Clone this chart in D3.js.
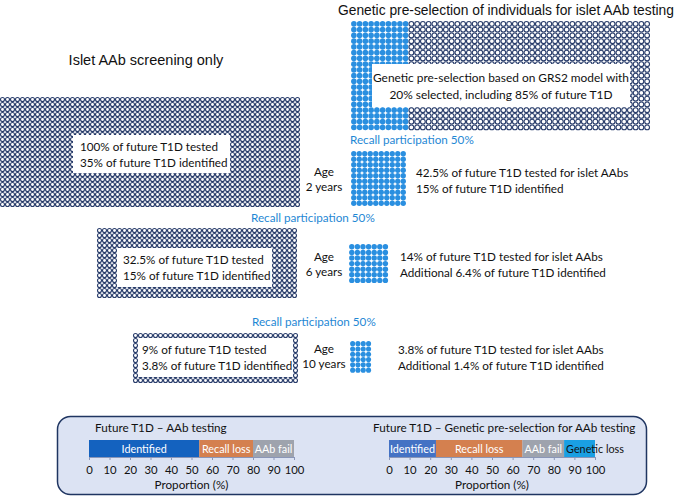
<!DOCTYPE html>
<html><head><meta charset="utf-8">
<script src="https://cdn.jsdelivr.net/npm/d3@7"></script>
<style>body{margin:0;background:#fff}svg{display:block}</style>
</head><body>
<svg id="c" width="681" height="497"></svg>
<script>
// ---------------- data ----------------
const stageAges = ["2 years", "6 years", "10 years"];
const screeningTested = ["100% of future T1D tested", "32.5% of future T1D tested", "9% of future T1D tested"];
const screeningIdentified = ["35% of future T1D identified", "15% of future T1D identified", "3.8% of future T1D identified"];
const geneticTested = ["42.5% of future T1D tested for islet AAbs", "14% of future T1D tested for islet AAbs", "3.8% of future T1D tested for islet AAbs"];
const geneticIdentified = ["15% of future T1D identified", "Additional 6.4% of future T1D identified", "Additional 1.4% of future T1D identified"];
const recallLabel = "Recall participation 50%";
const geneticSelectedShare = 0.20;
const preselectionText = ["Genetic pre-selection based on GRS2 model with", "20% selected, including 85% of future T1D"];
const screeningGridCols = [60, 40, 33];
const screeningGridRows = [22, 14, 10];
const geneticGridCols = [10, 7, 4];
const geneticGridRows = [10, 7, 6];
const barCategoriesA = ["Identified", "Recall loss", "AAb fail"];
const barValuesA = [53.8, 26.2, 20];
const barCategoriesB = ["Identified", "Recall loss", "AAb fail", "Genetic loss"];
const barValuesB = [22.8, 42, 20.2, 15];
const axisTicks = [0, 10, 20, 30, 40, 50, 60, 70, 80, 90, 100];

// ---------------- styling ----------------
const svg = d3.select("#c");
const NAVY = "#293d6b", BLUE = "#2a8fe0", RECALL = "#1f88d4";
const bodyFont = "Lato, 'Open Sans', sans-serif";
const titleFont = "'Liberation Sans', Arial, sans-serif";
const FS = 11.7;
const segColor = {"Identified": "#1462bf", "Recall loss": "#d4804f", "AAb fail": "#9ea3ad", "Genetic loss": "#1a9fe3"};
const segColorB = Object.assign({}, segColor, {"Identified": "#4472c4"});

function grid(g, x0, y0, cols, rows, pitch, colorFn) {
  const cells = d3.range(cols * rows).map(i => ({c: i % cols, r: Math.floor(i / cols)}));
  const xs = d3.scaleLinear().domain([0, cols]).range([x0, x0 + cols * pitch]);
  const ys = d3.scaleLinear().domain([0, rows]).range([y0, y0 + rows * pitch]);
  g.selectAll(null).data(cells).join("circle")
    .attr("cx", d => xs(d.c + 0.5)).attr("cy", d => ys(d.r + 0.5))
    .attr("r", d => colorFn(d) === "navy" ? pitch / 2 - 0.5 : pitch / 2 - 0.1)
    .attr("fill", d => colorFn(d) === "navy" ? "#fff" : BLUE)
    .attr("stroke", d => colorFn(d) === "navy" ? NAVY : "none")
    .attr("stroke-width", 1.1);
}
function textLines(g, x, y, lines, anchor, size, color, dy) {
  lines.forEach((t, i) => g.append("text").attr("x", x).attr("y", y + i * dy)
    .attr("text-anchor", anchor).attr("font-family", bodyFont).attr("font-size", size)
    .attr("fill", color || "#111").text(t));
}

// titles
svg.append("text").attr("x", 338).attr("y", 15).attr("text-anchor", "start")
  .attr("font-family", titleFont).attr("font-size", 13.8).attr("fill", "#111")
  .text("Genetic pre-selection of individuals for islet AAb testing");
svg.append("text").attr("x", 146).attr("y", 65).attr("text-anchor", "middle")
  .attr("font-family", titleFont).attr("font-size", 14.5).attr("fill", "#111")
  .text("Islet AAb screening only");

// top-right genetic pre-selection grid
const gTop = svg.append("g");
const topCols = 52, topRows = 19;
grid(gTop, 351, 21, topCols, topRows, 5.75, d => d.c < Math.round(topCols * geneticSelectedShare) ? "blue" : "navy");
gTop.append("rect").attr("x", 372).attr("y", 64).attr("width", 258).attr("height", 43).attr("fill", "#fff");
textLines(gTop, 501, 82, preselectionText, "middle", FS + 0.2, "#111", 17);

// screening grids (left)
const leftBoxes = [
  {x0: 0, y0: 97, pitch: 5, box: [73, 135, 157, 38], tx: 80},
  {x0: 97, y0: 228, pitch: 5, box: [117, 248, 155, 39], tx: 123},
  {x0: 133, y0: 333, pitch: 5, box: [138, 338, 155, 39], tx: 142}
];
const rightBlocks = [
  {x0: 351, y0: 151, pitch: 5.5, ty: 177, ageY: 176, tx: 416},
  {x0: 349, y0: 244, pitch: 5.6, ty: 261, ageY: 261, tx: 400},
  {x0: 350, y0: 341, pitch: 5.3, ty: 354, ageY: 353, tx: 398}
];
const recallPos = [{x: 350, y: 144}, {x: 251, y: 222}, {x: 252, y: 326}];

stageAges.forEach((age, i) => {
  const L = leftBoxes[i];
  const g = svg.append("g");
  grid(g, L.x0, L.y0, screeningGridCols[i], screeningGridRows[i], L.pitch, () => "navy");
  g.append("rect").attr("x", L.box[0]).attr("y", L.box[1]).attr("width", L.box[2]).attr("height", L.box[3]).attr("fill", "#fff");
  textLines(g, L.tx, L.box[1] + 16, [screeningTested[i], screeningIdentified[i]], "start", FS, "#111", 15.5);

  const R = rightBlocks[i];
  grid(g, R.x0, R.y0, geneticGridCols[i], geneticGridRows[i], R.pitch, () => "blue");
  textLines(g, 324, R.ageY, ["Age", age], "middle", FS, "#111", 15);
  textLines(g, R.tx, R.ty, [geneticTested[i], geneticIdentified[i]], "start", FS, "#111", 16);

  svg.append("text").attr("x", recallPos[i].x).attr("y", recallPos[i].y)
    .attr("font-family", bodyFont).attr("font-size", FS).attr("fill", RECALL).text(recallLabel);
});

// bottom panel
svg.append("rect").attr("x", 57.5).attr("y", 416.5).attr("width", 589).attr("height", 78)
  .attr("rx", 13).attr("fill", "#dce3f3").attr("stroke", "#1f3561").attr("stroke-width", 1.5);

function stackedBar(x0, x1, title, titleX, cats, vals, colors, textColorFn) {
  const g = svg.append("g");
  const xs = d3.scaleLinear().domain([0, 100]).range([x0, x1]);
  const y0 = 440, h = 17;
  let acc = 0;
  const segs = cats.map((c, i) => { const s = {cat: c, a: acc, b: acc + vals[i]}; acc += vals[i]; return s; });
  g.append("text").attr("x", titleX).attr("y", 432).attr("font-family", bodyFont).attr("font-size", FS).attr("fill", "#111").text(title);
  g.selectAll(null).data(segs).join("rect")
    .attr("x", d => xs(d.a)).attr("y", y0).attr("width", d => xs(d.b) - xs(d.a)).attr("height", h)
    .attr("fill", d => colors[d.cat]);
  g.selectAll(null).data(segs).join("text")
    .attr("x", d => d.cat === "Genetic loss" ? xs(d.a) + 2 : (xs(d.a) + xs(d.b)) / 2)
    .attr("y", y0 + 12.5).attr("text-anchor", d => d.cat === "Genetic loss" ? "start" : "middle")
    .attr("font-family", bodyFont).attr("font-size", 10.8).attr("fill", d => textColorFn(d.cat)).text(d => d.cat);
  const ax = g.append("g").attr("transform", `translate(0,${y0 + h})`)
    .call(d3.axisBottom(xs).tickValues(axisTicks).tickSize(3).tickPadding(6));
  ax.select(".domain").attr("stroke", "#8a96b8");
  ax.selectAll(".tick line").attr("stroke", "#8a96b8");
  ax.selectAll("text").attr("font-family", bodyFont).attr("font-size", 11.3).attr("fill", "#111");
  g.append("text").attr("x", (x0 + x1) / 2).attr("y", 489).attr("text-anchor", "middle")
    .attr("font-family", bodyFont).attr("font-size", FS).attr("fill", "#111").text("Proportion (%)");
}
stackedBar(89, 294, "Future T1D \u2013 AAb testing", 95, barCategoriesA, barValuesA, segColor, () => "#fff");
stackedBar(389, 595, "Future T1D \u2013 Genetic pre-selection for AAb testing", 373, barCategoriesB, barValuesB, segColorB,
  c => c === "Genetic loss" ? "#111" : "#fff");
</script>
</body></html>
